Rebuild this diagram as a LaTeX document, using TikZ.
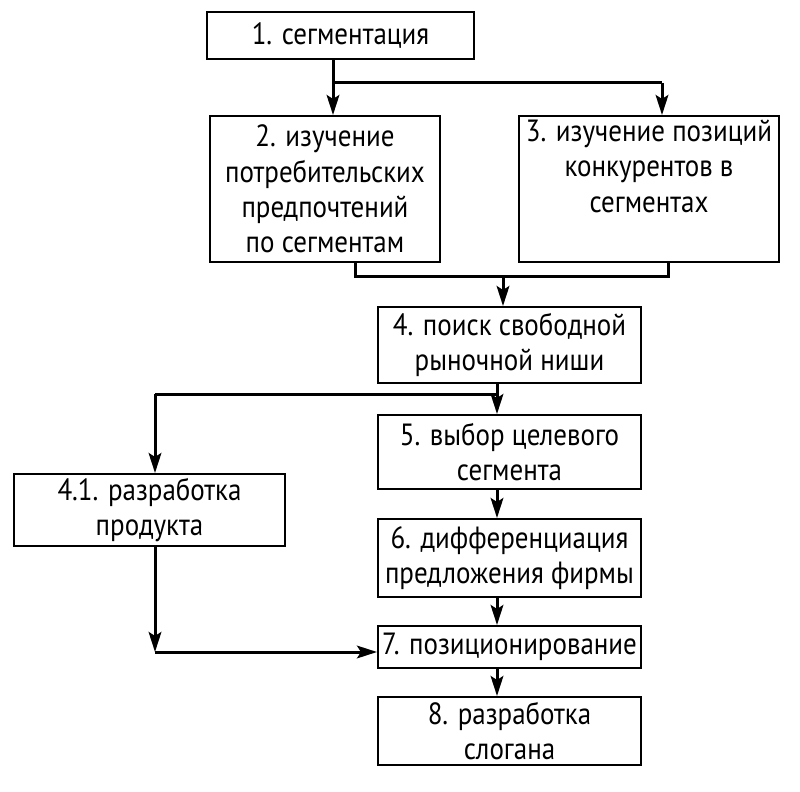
\documentclass[tikz,border=0pt]{standalone}
\usepackage{fontspec}
\setmainfont[FakeStretch=0.88]{PT Sans}
\usetikzlibrary{arrows.meta}
\begin{document}
\begin{tikzpicture}[x=0.75pt,y=-0.75pt,
  box/.style={draw=black,line width=1.5pt,fill=white,inner sep=0pt,align=center,
    font=\fontsize{23}{26.5}\selectfont},
  conn/.style={line width=2.25pt,draw=black},
  arr/.style={conn,-{Stealth[length=15pt,width=9.5pt,inset=3pt]}}]
\path[fill=white] (0,0) rectangle (800,792);
\useasboundingbox (0,0) rectangle (800,792);

\node[box,minimum width=200.25pt,minimum height=35.25pt] (b1) at (340.5,35.5) {1. сегментация};
\node[box,minimum width=172.5pt,minimum height=109.5pt] (b2) at (325,189) {2. изучение\\потребительских\\предпочтений\\по сегментам};
\node[box,minimum width=195pt,minimum height=109.5pt] (b3) at (649,189) {3. изучение позиций\\конкурентов в\\сегментах\\\strut};
\node[box,minimum width=197.25pt,minimum height=57pt] (b4) at (509.5,345) {4. поиск свободной\\рыночной ниши};
\node[box,minimum width=197.25pt,minimum height=55.5pt] (b5) at (509.5,452) {5. выбор целевого\\сегмента};
\node[box,minimum width=203.25pt,minimum height=54pt] (b41) at (149.5,510) {4.1. разработка\\продукта};
\node[box,minimum width=197.25pt,minimum height=58.5pt] (b6) at (509.5,558) {6. дифференциация\\предложения фирмы};
\node[box,minimum width=197.25pt,minimum height=31.5pt] (b7) at (509.5,647) {7. позиционирование};
\node[box,minimum width=197.25pt,minimum height=51pt] (b8) at (509.5,731) {8. разработка\\слогана};

% 1 -> 2, 3
\coordinate (s1) at (333,59);
\coordinate (j1) at (333,83);
\coordinate (k1) at (662,83);
\draw[arr] (s1) -- (b2.north -| s1);
\draw[conn] (j1) -- (k1);
\draw[arr] (k1) -- (b3.north -| k1);

% 2, 3 -> 4
\coordinate (a2) at (355,276);
\coordinate (a3) at (668,276);
\coordinate (m23) at (503,276);
\draw[conn] (b2.south -| a2) -- (a2) -- (a3) -- (b3.south -| a3);
\draw[arr] (m23) -- (b4.north -| m23);

% 4 -> 5, 4.1
\coordinate (s4) at (497,383);
\coordinate (j4) at (497,394);
\coordinate (l4) at (155,394);
\draw[arr] (s4) -- (b5.north -| s4);
\draw[conn] (j4) -- (l4);
\draw[arr] (l4) -- (b41.north -| l4);

% 5 -> 6 -> 7 -> 8
\draw[arr] (b5.south -| s4) -- (b6.north -| s4);
\draw[arr] (b6.south -| s4) -- (b7.north -| s4);
\draw[arr] (b7.south -| s4) -- (b8.north -| s4);

% 4.1 -> 7
\coordinate (c41) at (155,652);
\draw[arr] (b41.south -| c41) -- (c41);
\draw[arr] (c41) -- (b7.west |- c41);
\end{tikzpicture}
\end{document}
